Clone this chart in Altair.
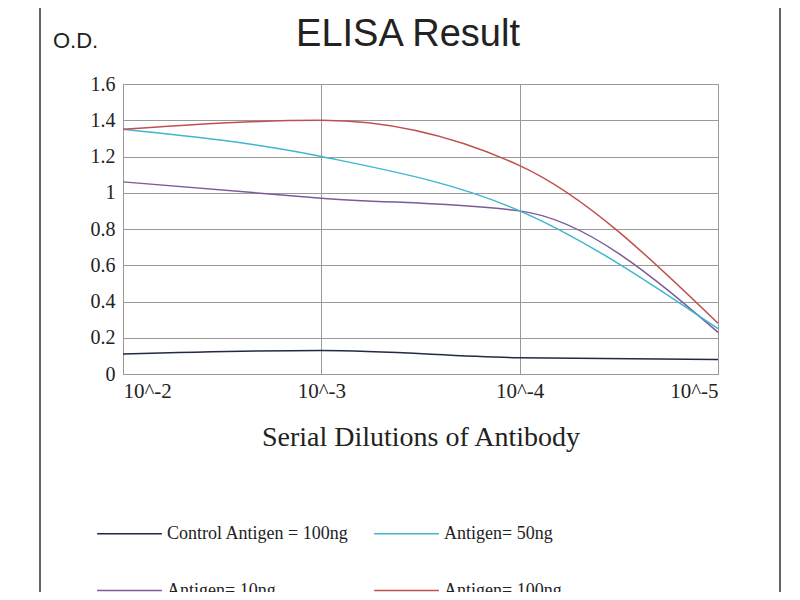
import altair as alt
import pandas as pd

dilutions = ["10^-2", "10^-3", "10^-4", "10^-5"]
series = ["Control Antigen = 100ng", "Antigen= 10ng", "Antigen= 50ng", "Antigen= 100ng"]
colors = ["#1f2a44", "#7b5c9a", "#3fb6d0", "#c0504d"]
control = [0.11, 0.13, 0.09, 0.08]
ag10 = [1.06, 0.97, 0.90, 0.23]
ag50 = [1.35, 1.20, 0.90, 0.25]
ag100 = [1.35, 1.40, 1.15, 0.28]

rows = []
for name, vals in zip(series, [control, ag10, ag50, ag100]):
    for i, v in enumerate(vals):
        rows.append({"pos": i, "label": dilutions[i], "series": name, "od": v})
df = pd.DataFrame(rows)

serif = "Liberation Serif"

lines = alt.Chart(df).mark_line(interpolate="monotone", strokeWidth=1.5).encode(
    x=alt.X("pos:Q", scale=alt.Scale(domain=[0, 3], nice=False),
            axis=alt.Axis(values=[0, 1, 2, 3], labelExpr="['10^-2','10^-3','10^-4','10^-5'][datum.value]",
                          title="Serial Dilutions of Antibody", titleFont=serif, titleFontSize=28,
                          titleFontWeight="normal", titleColor="#222", titlePadding=22,
                          labelFont=serif, labelFontSize=21, labelColor="#222", labelPadding=6,
                          ticks=False, gridColor="#999", domainColor="#999")),
    y=alt.Y("od:Q", scale=alt.Scale(domain=[0, 1.6], nice=False),
            axis=alt.Axis(values=[0, 0.2, 0.4, 0.6, 0.8, 1, 1.2, 1.4, 1.6], title=None, format=".1~f",
                          labelFont=serif, labelFontSize=20, labelColor="#222", labelPadding=8,
                          ticks=False, gridColor="#999", domainColor="#999")),
    color=alt.Color("series:N", sort=series,
                    scale=alt.Scale(domain=series, range=colors),
                    legend=alt.Legend(title=None, orient="none", legendX=-27, legendY=416,
                                      columns=2, columnPadding=22, rowPadding=14,
                                      symbolType="stroke", symbolSize=4200, symbolStrokeWidth=1.5,
                                      labelFont=serif, labelFontSize=18, labelColor="#222",
                                      labelLimit=400)),
)

title = alt.Chart(pd.DataFrame({"t": ["ELISA Result"]})).mark_text(
    font="Liberation Sans", fontSize=38, color="#222", align="center", baseline="middle"
).encode(text="t:N", x=alt.value(285), y=alt.value(-49))
od = alt.Chart(pd.DataFrame({"t": ["O.D."]})).mark_text(
    font="Liberation Sans", fontSize=22, color="#222", align="left", baseline="middle"
).encode(text="t:N", x=alt.value(-70), y=alt.value(-43))
frame = alt.Chart(pd.DataFrame({"a": [0]})).mark_rect(
    fill=None, stroke="#333", strokeWidth=1.5
).encode(x=alt.value(-83), x2=alt.value(657), y=alt.value(-82), y2=alt.value(512))

chart = alt.layer(frame, lines, title, od).properties(
    width=595, height=290,
    autosize=alt.AutoSizeParams(type="none"),
    padding={"left": 115, "top": 76, "right": 74, "bottom": 218},
).configure_view(stroke="#999")

chart.save("out.html", embed_options={"renderer": "svg", "actions": False})
